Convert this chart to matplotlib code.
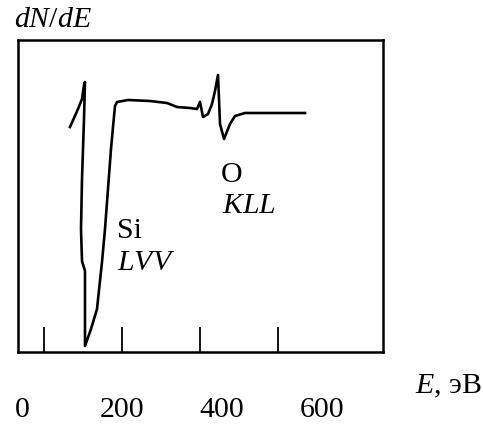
import matplotlib
matplotlib.use("Agg")
import matplotlib.pyplot as plt
import matplotlib.transforms as mtransforms

plt.rcParams['font.family'] = ['Liberation Serif', 'DejaVu Serif']
plt.rcParams['mathtext.fontset'] = 'custom'
plt.rcParams['mathtext.rm'] = 'Liberation Serif'
plt.rcParams['mathtext.it'] = 'Liberation Serif:italic'

# Auger spectrum dN/dE (arbitrary units) vs electron energy, eV
energy = [96, 112, 120, 124, 126, 124, 120, 118, 120, 126, 126, 138, 150,
          160, 166, 172, 178, 182, 186, 190, 212, 256, 290, 310, 336, 350,
          356, 362, 372, 380, 386, 392, 394, 396, 404, 416, 426, 446, 566]
dnde = [225, 243, 253, 267, 270, 233, 173, 123, 91, 81, 6, 23, 43,
        90, 123, 163, 203, 225, 246, 250, 252, 251, 249, 245, 244, 243,
        250, 235, 238, 248, 261, 277, 253, 228, 213, 228, 236, 239, 239]

tick_energies = [44, 200, 356, 512]
label_energies = [0, 200, 400, 600]
label_texts = ['0', '200', '400', '600']

fig = plt.figure(figsize=(4.83, 4.27), dpi=100)
ax = fig.add_axes([18 / 483, 1 - 353 / 427, 365 / 483, 312 / 427])
ax.plot(energy, dnde, color='black', lw=1.9, solid_joinstyle='round')
ax.set_xlim(-8, 722)
ax.set_ylim(0, 312)

for s in ax.spines.values():
    s.set_linewidth(1.8)
ax.set_yticks([])
ax.set_xticks(tick_energies)
ax.tick_params(axis='x', direction='in', length=18, width=1.3, labelbottom=False)

fs = 21.5
trans = mtransforms.blended_transform_factory(ax.transData, ax.transAxes)
for e, t in zip(label_energies, label_texts):
    ax.text(e, -0.183, t, transform=trans, ha='center', va='center', fontsize=fs)

# peak labels
ax.text(190, 0.39, 'Si', transform=trans, fontsize=fs, ha='left', va='center')
ax.text(190, 0.29, '$LVV$', transform=trans, fontsize=fs, ha='left', va='center')
ax.text(420, 0.57, 'O', transform=trans, fontsize=fs, ha='center', va='center')
ax.text(400, 0.47, '$KLL$', transform=trans, fontsize=fs, ha='left', va='center')

fig.text(14 / 483, 1 - 20 / 427, '$dN/dE$', fontsize=fs, ha='left', va='center')
fig.text(482 / 483, 1 - 386 / 427, '$E$, эВ', fontsize=fs, ha='right', va='center')

fig.savefig('out.png', dpi=100)
